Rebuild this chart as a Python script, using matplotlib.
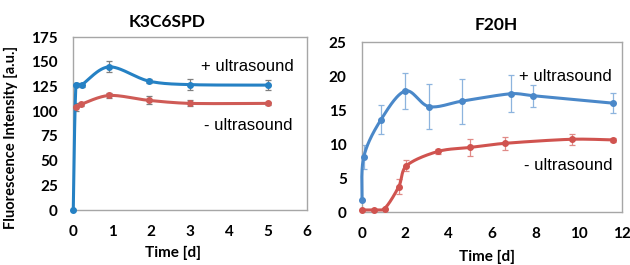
import numpy as np
import matplotlib
matplotlib.use('Agg')
import matplotlib.pyplot as plt

plt.rcParams['font.family'] = ['Lato', 'DejaVu Sans']

# K3C6SPD (left)
t_plus_L = [0, 0.07, 0.22, 0.92, 1.95, 3.0, 5.0]
y_plus_L = [0, 127, 127, 145, 130.5, 127, 126.5]
e_plus_L = [0, 2, 2, 5.5, 2, 5.5, 5]
t_minus_L = [0.07, 0.2, 0.92, 1.95, 3.0, 5.0]
y_minus_L = [104, 107, 116, 111, 108, 108]
e_minus_L = [4, 1.5, 3, 4, 3, 1.5]

# F20H (right)
t_plus_R = [0, 0.08, 0.88, 2.0, 3.1, 4.6, 6.9, 7.9, 11.6]
y_plus_R = [1.7, 8.1, 13.6, 17.8, 15.5, 16.3, 17.4, 17.1, 16.0]
e_plus_R = [0, 1.8, 2.1, 2.7, 3.3, 3.3, 2.75, 1.6, 1.45]
t_minus_R = [0, 0.54, 1.04, 1.7, 2.05, 3.5, 5.0, 6.6, 9.7, 11.6]
y_minus_R = [0.3, 0.3, 0.5, 3.75, 6.8, 8.9, 9.5, 10.1, 10.7, 10.6]
e_minus_R = [0, 0, 0, 1.15, 0.8, 0.3, 1.3, 1.0, 0.8, 0.3]


def smooth(ax, xs, ys, n=30):
    # Excel-like smoothed line, computed in pixel space so lengths make sense
    p = ax.transData.transform(np.column_stack([xs, ys]))
    out = [p[0]]
    s = np.linspace(0, 1, n)[1:, None]
    for i in range(len(p) - 1):
        p0 = p[max(i - 1, 0)]
        p3 = p[min(i + 2, len(p) - 1)]
        L = np.linalg.norm(p[i + 1] - p[i])
        t1 = (p[i + 1] - p0) / 6
        t2 = (p3 - p[i]) / 6
        # keep tangents from overshooting on very short segments
        for t in (t1, t2):
            m = np.linalg.norm(t)
            if m > L / 3 and m > 0:
                t *= (L / 3) / m
        c1 = p[i] + t1
        c2 = p[i + 1] - t2
        seg = ((1 - s) ** 3) * p[i] + 3 * ((1 - s) ** 2) * s * c1 + 3 * (1 - s) * s ** 2 * c2 + s ** 3 * p[i + 1]
        out.extend(seg)
    out = ax.transData.inverted().transform(np.array(out))
    return out[:, 0], out[:, 1]


def draw(ax, t, y, e, color, ecolor):
    ax.errorbar(t, y, yerr=e, fmt='none', ecolor=ecolor, elinewidth=0.9, capsize=2.5, capthick=0.9, zorder=2)
    sx, sy = smooth(ax, t, y)
    ax.plot(sx, sy, color=color, linewidth=2.2, zorder=3, clip_on=False)
    ax.plot(t, y, 'o', color=color, markersize=4, zorder=4, clip_on=False)


fig = plt.figure(figsize=(6.3, 2.65), dpi=100)
ax1 = fig.add_axes([0.1163, 0.2075, 0.3705, 0.652])
ax2 = fig.add_axes([0.5746, 0.20, 0.4127, 0.6415])
ax1.set_xlim(0, 6)
ax1.set_ylim(0, 175)
ax2.set_xlim(0, 12)
ax2.set_ylim(0, 25)

blue_L = '#2581c4'
red_L = '#cf5b56'
draw(ax1, t_plus_L, y_plus_L, e_plus_L, blue_L, '#7f7f7f')
draw(ax1, t_minus_L, y_minus_L, e_minus_L, red_L, '#7f7f7f')
ax1.set_xlim(0, 6)
ax1.set_ylim(0, 175)
ax1.set_xticks(range(0, 7))
ax1.set_yticks(range(0, 176, 25))

blue_R = '#4a88c9'
red_R = '#d0534f'
draw(ax2, t_plus_R, y_plus_R, e_plus_R, blue_R, '#8db4de')
draw(ax2, t_minus_R, y_minus_R, e_minus_R, red_R, '#e08a87')
ax2.set_xlim(0, 12)
ax2.set_ylim(0, 25)
ax2.set_xticks(range(0, 13, 2))
ax2.set_yticks(range(0, 26, 5))

for ax in (ax1, ax2):
    for sp in ax.spines.values():
        sp.set_color('#a6a6a6')
        sp.set_linewidth(1.0)
    ax.tick_params(length=0, pad=11, labelsize=11)
    for lab in ax.get_xticklabels() + ax.get_yticklabels():
        lab.set_fontweight('bold')

ax1.set_ylabel('Fluorescence Intensity [a.u.]', fontsize=10.5, fontweight='bold')
ax1.yaxis.set_label_coords(-0.235, 0.42)

fig.text(166.7 / 630, 1 - 22 / 265, 'K3C6SPD', ha='center', va='center', fontsize=12.5, fontweight='bold')
fig.text(496.5 / 630, 1 - 25 / 265, 'F20H', ha='center', va='center', fontsize=12.5, fontweight='bold')
fig.text(173 / 630, 1 - 253 / 265, 'Time [d]', ha='center', va='center', fontsize=11, fontweight='bold')
fig.text(487 / 630, 1 - 257 / 265, 'Time [d]', ha='center', va='center', fontsize=11, fontweight='bold')

lab_font = dict(fontsize=12, family=['Liberation Sans', 'DejaVu Sans'], ha='right', va='center')
fig.text(294 / 630, 1 - 67 / 265, '+ ultrasound', **lab_font)
fig.text(292 / 630, 1 - 125 / 265, '- ultrasound', **lab_font)
fig.text(612 / 630, 1 - 77 / 265, '+ ultrasound', **lab_font)
fig.text(612 / 630, 1 - 166 / 265, '- ultrasound', **lab_font)

fig.savefig('out.png', dpi=100)
